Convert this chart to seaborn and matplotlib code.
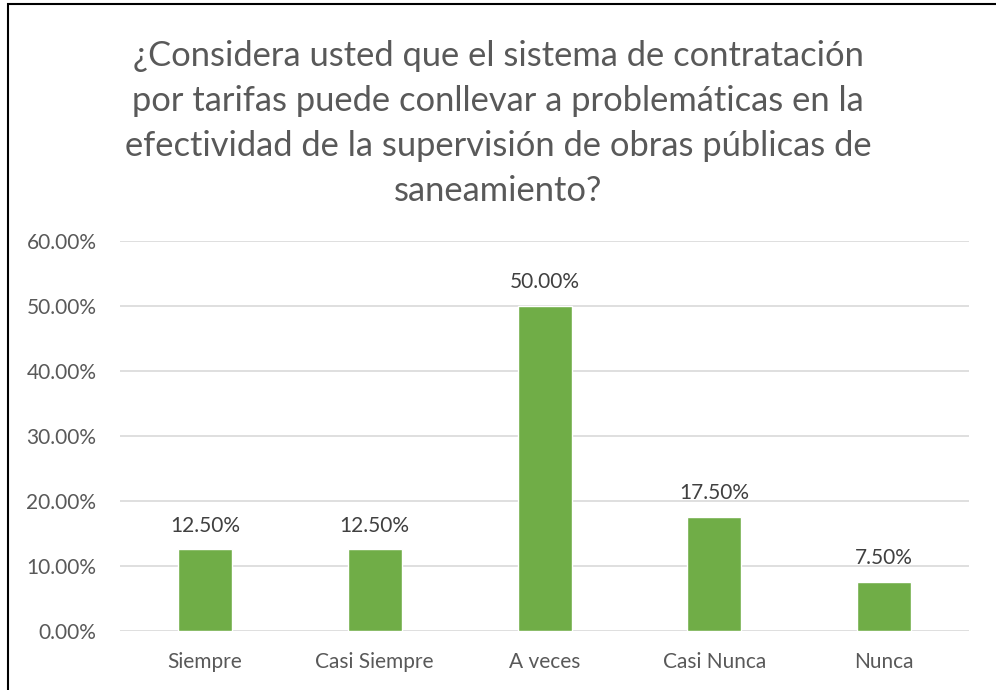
import matplotlib.pyplot as plt
import seaborn as sns
import pandas as pd
from matplotlib.patches import Rectangle
from matplotlib.ticker import FuncFormatter

# Datos del gráfico
categorias = ["Siempre", "Casi Siempre", "A veces", "Casi Nunca", "Nunca"]
porcentajes = [12.5, 12.5, 50.0, 17.5, 7.5]

titulo = ("¿Considera usted que el sistema de contratación\n"
          "por tarifas puede conllevar a problemáticas en la\n"
          "efectividad de la supervisión de obras públicas de\n"
          "saneamiento?")

df = pd.DataFrame({"categoria": categorias, "porcentaje": porcentajes})

sns.set_style("white")
plt.rcParams["font.family"] = ["Lato", "DejaVu Sans"]

gris = "#595959"
verde = "#70AD47"

fig = plt.figure(figsize=(9.96, 6.9), dpi=100)
ax = fig.add_axes([0.1205, 0.0859, 0.8524, 0.5652])

sns.barplot(data=df, x="categoria", y="porcentaje", color=verde,
            saturation=1, width=0.318, ax=ax, zorder=3)

ax.set_ylim(0, 60)
ax.set_yticks(range(0, 61, 10))
ax.yaxis.set_major_formatter(FuncFormatter(lambda v, _: f"{v:.2f}%"))
ax.grid(axis="y", color="#D9D9D9", linewidth=1.2, zorder=0)
ax.set_axisbelow(True)
for s in ax.spines.values():
    s.set_visible(False)
ax.tick_params(axis="both", length=0, labelsize=15, labelcolor=gris)
ax.tick_params(axis="y", pad=17)
ax.tick_params(axis="x", pad=15)
ax.set_xlabel("")
ax.set_ylabel("")

# Etiquetas de datos
for i, v in enumerate(porcentajes):
    ax.annotate(f"{v:.2f}%", (i, v), xytext=(0, 10), textcoords="offset points",
                ha="center", va="bottom", fontsize=15, color="#404040")

fig.text(0.5, 0.70, titulo, ha="center", va="bottom", fontsize=24.8,
         color=gris, linespacing=1.5)

# Borde del área del gráfico
fig.patches.append(Rectangle((8 / 996, -0.05), 1.2, (690 - 4) / 690 + 0.05,
                             transform=fig.transFigure, fill=False,
                             edgecolor="black", linewidth=1.5))

fig.savefig("out.png", dpi=100)
